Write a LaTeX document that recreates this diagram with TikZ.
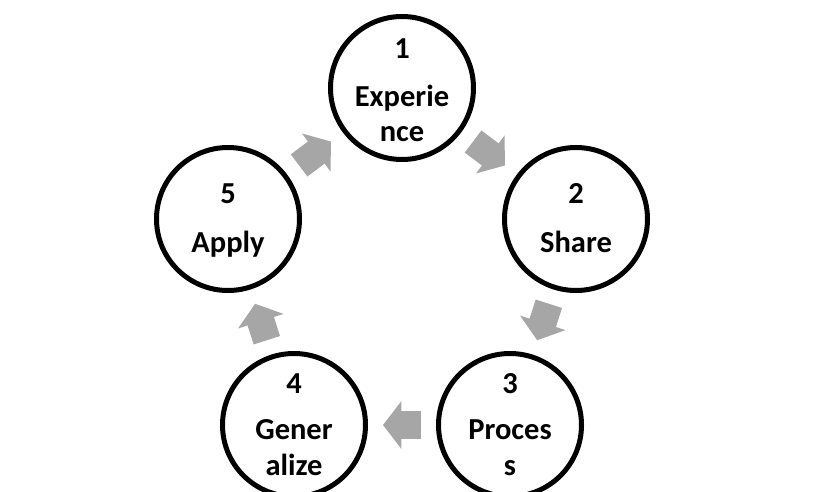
\documentclass[tikz,border=0pt]{standalone}
\usepackage{fontspec}
\setmainfont{Carlito}
\usetikzlibrary{arrows.meta,calc}
\definecolor{arrowgray}{RGB}{166,166,166}
\begin{document}
\begin{tikzpicture}[x=1pt,y=-1pt,
  stage/.style={circle,draw=black,line width=5pt,fill=white,minimum size=143pt,inner sep=0pt},
  lbl/.style={font=\fontsize{30.5}{36}\selectfont\bfseries,anchor=base,inner sep=0pt},
  cyclearrow/.style={draw=arrowgray,line width=27.7pt,
    -{Triangle[width=46.7pt,length=18.3pt]},shorten <=89pt,shorten >=89pt}]
\useasboundingbox (0,0) rectangle (838,492);
% stages
\node[stage] (n1) at (402,88) {};
\node[stage] (n2) at (576,219) {};
\node[stage] (n3) at (510,425) {};
\node[stage] (n4) at (294,425) {};
\node[stage] (n5) at (228,219) {};
% labels
\node[lbl] (l1a) at ($(n1)+(0,-29)$) {1};
\node[lbl] (l1b) at ($(n1)+(0,19)$) {Experie};
\node[lbl] (l1c) at ($(n1)+(0,54)$) {nce};
\node[lbl] (l2a) at ($(n2)+(0,-16)$) {2};
\node[lbl] (l2b) at ($(n2)+(0,33)$) {Share};
\node[lbl] (l3a) at ($(n3)+(0,-32)$) {3};
\node[lbl] (l3b) at ($(n3)+(0,14)$) {Proces};
\node[lbl] (l3c) at ($(n3)+(0,50)$) {s};
\node[lbl] (l4a) at ($(n4)+(0,-32)$) {4};
\node[lbl] (l4b) at ($(n4)+(0,14)$) {Gener};
\node[lbl] (l4c) at ($(n4)+(0,50)$) {alize};
\node[lbl] (l5a) at ($(n5)+(0,-16)$) {5};
\node[lbl] (l5b) at ($(n5)+(0,33)$) {Apply};
% cycle arrows
\draw[cyclearrow] (n1.center) -- (n2.center);
\draw[cyclearrow] (n2.center) -- (n3.center);
\draw[cyclearrow] (n3.center) -- (n4.center);
\draw[cyclearrow] (n4.center) -- (n5.center);
\draw[cyclearrow] (n5.center) -- (n1.center);
\end{tikzpicture}
\end{document}
